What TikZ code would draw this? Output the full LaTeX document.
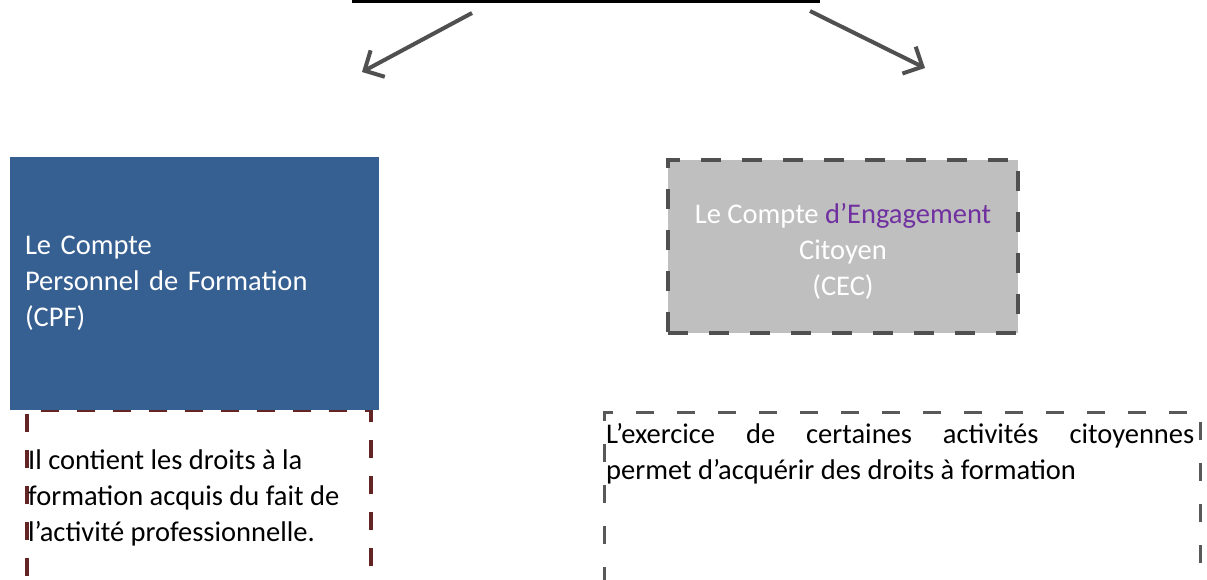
\documentclass[tikz,border=0pt]{standalone}
\usepackage{fontspec}
\setmainfont{Carlito}
\usetikzlibrary{arrows.meta}
\definecolor{cpfblue}{HTML}{376092}
\definecolor{cecgray}{HTML}{BFBFBF}
\definecolor{edgegray}{HTML}{505050}
\definecolor{notegray}{HTML}{595959}
\definecolor{notered}{HTML}{632523}
\definecolor{engpurple}{HTML}{7030A0}
\tikzset{
  every node/.style={font=\fontsize{28.5}{36}\selectfont},
  flow/.style={draw=edgegray, line width=4pt,
    -{Straight Barb[length=15pt,width=30pt,line width=4pt]}},
  cpfbox/.style={fill=cpfblue, text=white, minimum width=369pt, minimum height=253pt,
    inner xsep=15pt, text width=339pt, align=left},
  cecbox/.style={fill=cecgray, draw=edgegray, line width=4pt, dash pattern=on 20pt off 21pt,
    text=white, minimum width=350pt, minimum height=173pt, align=center},
  rednote/.style={draw=notered, line width=4pt, dash pattern=on 18pt off 18pt,
    minimum width=344pt, minimum height=172pt, inner sep=0pt},
  graynote/.style={draw=notegray, line width=3pt, dash pattern=on 18pt off 23pt,
    minimum width=596pt, minimum height=170pt, inner sep=0pt},
  notetext/.style={inner sep=0pt, text=black},
}
\begin{document}
\begin{tikzpicture}[x=1pt, y=-1pt]
  \useasboundingbox (0,0) rectangle (1207,579);
  % title rule at the top
  \coordinate (ruleL) at (352,1);
  \coordinate (ruleR) at (820,1);
  \draw[line width=4pt, black] (ruleL) -- (ruleR);
  % arrows leading to the two accounts
  \coordinate (fromL) at (472,13);
  \coordinate (toL) at (362,72);
  \coordinate (fromR) at (810,11);
  \coordinate (toR) at (925,68);
  \draw[flow] (fromL) -- (toL);
  \draw[flow] (fromR) -- (toR);
  % note boxes (drawn first so the blue box covers their top edge)
  \node[rednote] (cpfnote) at (199,496) {};
  \node[graynote] (cecnote) at (902,497) {};
  % the two accounts
  \node[cpfbox] (cpf) at (194.5,283.5) {Le Compte\\Personnel de Formation\\(CPF)};
  \node[cecbox] (cec) at (843,246.5)
    {\rule{0pt}{29pt}Le Compte \textcolor{engpurple}{d’Engagement}\\Citoyen\\(CEC)};
  % note texts
  \node[notetext, anchor=west, align=left] (cpftext) at (28,498)
    {Il contient les droits à la\\formation acquis du fait de\\l’activité professionnelle.};
  \node[notetext, anchor=north west, text width=588pt, align=justify] (cectext) at (606,423)
    {L’exercice de certaines activités citoyennes\linebreak permet d’acquérir des droits à formation};
\end{tikzpicture}
\end{document}
